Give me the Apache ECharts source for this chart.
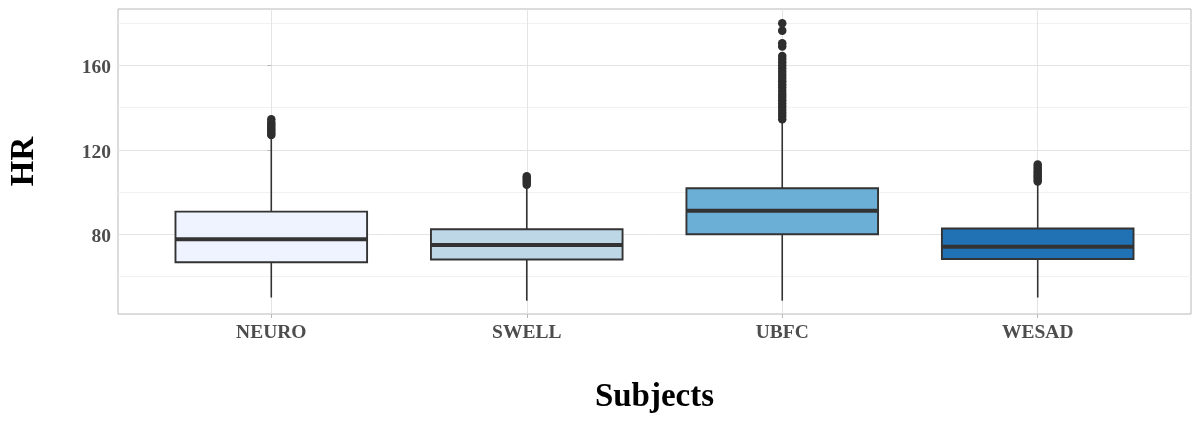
<!DOCTYPE html>
<html>
<head>
<meta charset="utf-8">
<script src="https://cdn.jsdelivr.net/npm/echarts@6/dist/echarts.min.js"></script>
<style>html,body{margin:0;padding:0;background:#fff}#chart{width:1200px;height:421px}</style>
</head>
<body>
<div id="chart"></div>
<script>
// ---- data ----
const categories = ['NEURO', 'SWELL', 'UBFC', 'WESAD'];
const lowerWhisker = [50, 48.5, 48.5, 50];
const q1 = [66.7, 68, 80, 68.3];
const median = [77.6, 74.9, 91.1, 74.1];
const q3 = [90.7, 82.4, 101.8, 82.7];
const upperWhisker = [126, 102.8, 133.5, 104.3];
const outliersNEURO = [127, 128, 129, 130, 131, 132, 133, 134.5];
const outliersSWELL = [103.5, 104.5, 105.5, 106.5, 107.5];
const outliersUBFC = [134.5, 136, 137.5, 139, 140.5, 142, 143.5, 145, 146.5, 148, 149.5, 151, 152.5, 154, 155.5, 157, 158.5, 160, 161.5, 163, 164.5, 169, 170.5, 176.5, 180];
const outliersWESAD = [105, 106, 107, 108, 109, 110, 111, 112, 113];
const fillColors = ['#eff3ff', '#bdd7e7', '#6baed6', '#2171b5'];
const yMajorTicks = [80, 120, 160];
const yMinorTicks = [60, 100, 140, 180];

// ---- build ----
const boxData = categories.map((c, i) => [i, lowerWhisker[i], q1[i], median[i], q3[i], upperWhisker[i]]);
const outlierData = [];
[outliersNEURO, outliersSWELL, outliersUBFC, outliersWESAD].forEach((arr, i) => {
  arr.forEach(v => outlierData.push([i, v]));
});

const FONT = "'Liberation Serif', 'DejaVu Serif', serif";
const EDGE = '#333333';

const chart = echarts.init(document.getElementById('chart'), null, {renderer: 'canvas'});
chart.setOption({
  animation: false,
  backgroundColor: '#ffffff',
  grid: {left: 118, right: 9, top: 9, bottom: 107, show: true, borderColor: '#b8b8b8', borderWidth: 1,
    backgroundColor: 'transparent', outerBoundsMode: 'none', containLabel: false},
  xAxis: {
    type: 'value', min: -0.6, max: 3.6,
    name: 'Subjects', nameLocation: 'middle', nameGap: 67,
    nameTextStyle: {fontFamily: FONT, fontWeight: 'bold', fontSize: 33, color: '#000'},
    axisLine: {show: false},
    axisTick: {show: true, length: 4, lineStyle: {color: '#b8b8b8'}, customValues: [0, 1, 2, 3]},
    axisLabel: {customValues: [0, 1, 2, 3], formatter: v => categories[Math.round(v)], margin: 9,
      fontFamily: FONT, fontWeight: 'bold', fontSize: 19.5, color: '#4d4d4d'},
    splitLine: {show: true, lineStyle: {color: '#e4e4e4', width: 1}}
  },
  yAxis: [{
    type: 'value', min: 42.2, max: 186.75,
    name: 'HR', nameLocation: 'middle', nameGap: 77, nameRotate: 90,
    nameTextStyle: {fontFamily: FONT, fontWeight: 'bold', fontSize: 33, color: '#000'},
    axisLine: {show: false},
    axisTick: {show: true, length: 4, lineStyle: {color: '#b8b8b8'}, customValues: yMajorTicks},
    axisLabel: {customValues: yMajorTicks, margin: 7, verticalAlign: 'top', lineHeight: 6,
      fontFamily: FONT, fontWeight: 'bold', fontSize: 19.5, color: '#4d4d4d'},
    splitLine: {show: true, lineStyle: {color: '#e4e4e4', width: 1}}
  }, {
    type: 'value', min: 42.2, max: 186.75, position: 'left',
    axisLine: {show: false}, axisLabel: {show: false},
    axisTick: {show: false, customValues: yMinorTicks},
    splitLine: {show: true, lineStyle: {color: '#f1f1f1', width: 1}}
  }],
  series: [{
    type: 'custom',
    data: boxData,
    encode: {x: 0, y: [1, 2, 3, 4, 5]},
    z: 3,
    renderItem: function (params, api) {
      const x = api.value(0);
      const i = Math.round(x);
      const pMin = api.coord([x, api.value(1)]);
      const pQ1 = api.coord([x, api.value(2)]);
      const pMed = api.coord([x, api.value(3)]);
      const pQ3 = api.coord([x, api.value(4)]);
      const pMax = api.coord([x, api.value(5)]);
      const w = api.size([0.75, 0])[0];
      const cx = pMed[0];
      const lineStyle = {stroke: EDGE, lineWidth: 1.6, fill: null};
      return {
        type: 'group',
        children: [
          {type: 'line', shape: {x1: cx, y1: pMin[1], x2: cx, y2: pQ1[1]}, style: lineStyle},
          {type: 'line', shape: {x1: cx, y1: pQ3[1], x2: cx, y2: pMax[1]}, style: lineStyle},
          {type: 'rect', shape: {x: cx - w / 2, y: pQ3[1], width: w, height: pQ1[1] - pQ3[1]},
            style: {fill: fillColors[i], stroke: EDGE, lineWidth: 1.9}},
          {type: 'line', shape: {x1: cx - w / 2, y1: pMed[1], x2: cx + w / 2, y2: pMed[1]},
            style: {stroke: EDGE, lineWidth: 4}}
        ]
      };
    }
  }, {
    type: 'scatter',
    data: outlierData,
    symbol: 'circle',
    symbolSize: 8.5,
    itemStyle: {color: '#2e2e2e', opacity: 1},
    z: 4
  }]
});
</script>
</body>
</html>
